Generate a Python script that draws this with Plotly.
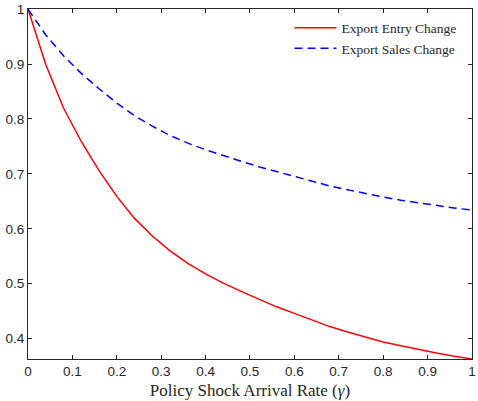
import plotly.graph_objects as go

gamma = [0.00, 0.04, 0.08, 0.12, 0.16, 0.20, 0.24, 0.28, 0.32, 0.36, 0.40, 0.44, 0.48,
         0.52, 0.56, 0.60, 0.64, 0.68, 0.72, 0.76, 0.80, 0.84, 0.88, 0.92, 0.96, 1.00]
entry_change = [1.000, 0.899, 0.820, 0.759, 0.706, 0.659, 0.619, 0.587, 0.560, 0.537,
                0.518, 0.501, 0.486, 0.472, 0.458, 0.446, 0.434, 0.422, 0.412, 0.403,
                0.394, 0.387, 0.380, 0.374, 0.368, 0.363]
sales_change = [1.000, 0.953, 0.915, 0.883, 0.855, 0.829, 0.806, 0.787, 0.770, 0.756,
                0.744, 0.733, 0.723, 0.713, 0.704, 0.695, 0.687, 0.678, 0.671, 0.664,
                0.658, 0.652, 0.647, 0.642, 0.638, 0.634]

x_ticks = [0, 0.1, 0.2, 0.3, 0.4, 0.5, 0.6, 0.7, 0.8, 0.9, 1]
x_ticktext = ["0", "0.1", "0.2", "0.3", "0.4", "0.5", "0.6", "0.7", "0.8", "0.9", "1"]
y_ticks = [0.4, 0.5, 0.6, 0.7, 0.8, 0.9, 1]
y_ticktext = ["0.4", "0.5", "0.6", "0.7", "0.8", "0.9", "1"]

fig = go.Figure()
fig.add_trace(go.Scatter(x=gamma, y=entry_change, mode="lines", name="Export Entry Change",
                         line=dict(color="rgb(255,0,0)", width=1.5)))
fig.add_trace(go.Scatter(x=gamma, y=sales_change, mode="lines", name="Export Sales Change",
                         line=dict(color="rgb(0,0,255)", width=1.5, dash="8px,5px")))

axis_common = dict(showgrid=False, zeroline=False, showline=True, linecolor="#262626",
                   linewidth=1, mirror="ticks", ticks="inside", ticklen=4,
                   tickcolor="#262626", tickwidth=1, ticklabeloverflow="allow",
                   tickfont=dict(family="Liberation Sans, Arial, sans-serif", size=13.5, color="#262626"))

fig.update_xaxes(range=[0, 1.0002], tickvals=x_ticks, ticktext=x_ticktext,
                 title=dict(text="Policy Shock Arrival Rate (<i>γ</i>)",
                            font=dict(family="Liberation Serif, Times New Roman, serif", size=17, color="#262626"),
                            standoff=5),
                 **axis_common)
fig.update_yaxes(range=[0.363, 1.0002], tickvals=y_ticks, ticktext=y_ticktext, **axis_common)

fig.update_layout(
    width=478, height=401,
    margin=dict(l=28, r=2, t=7, b=42),
    paper_bgcolor="white", plot_bgcolor="white",
    showlegend=True,
    legend=dict(x=0.589, y=0.99, xanchor="left", yanchor="top",
                bgcolor="rgba(255,255,255,0)", borderwidth=0,
                font=dict(family="Liberation Serif, Times New Roman, serif", size=13.5, color="#262626"),
                tracegroupgap=0, itemwidth=42),
)

fig.write_html("out.html")
